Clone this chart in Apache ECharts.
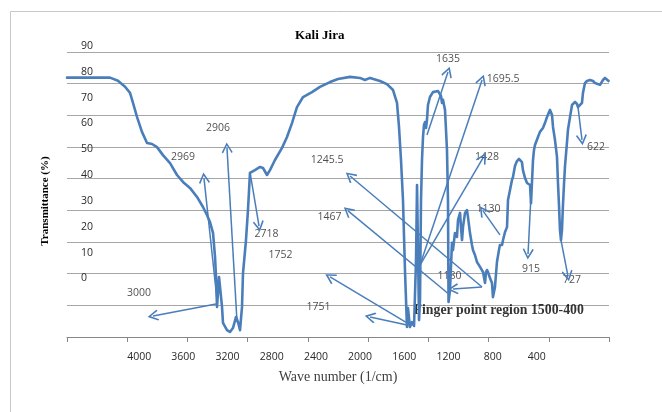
<!DOCTYPE html>
<html>
<head>
<meta charset="utf-8">
<script src="https://cdn.jsdelivr.net/npm/echarts@6/dist/echarts.min.js"></script>
<style>html,body{margin:0;padding:0;background:#fff}#c{width:662px;height:412px}</style>
</head>
<body>
<div id="c"></div>
<script>
// Spectrum: wave number (1/cm) and transmittance (%)
var waveNumber = [4650,4261,4189,4125,4080,4053,4017,3972,3926,3881,3836,3782,3718,3655,3601,3538,3474,3420,3384,3357,3329,3311,3302,3293,3275,3248,3239,3203,3176,3149,3121,3103,3085,3067,3058,3031,3013,2995,2950,2904,2877,2841,2814,2769,2705,2660,2615,2570,2515,2434,2362,2271,2199,2090,2000,1955,1909,1819,1756,1701,1665,1647,1629,1611,1593,1575,1566,1548,1530,1511,1493,1484,1475,1466,1457,1448,1439,1430,1421,1412,1403,1394,1385,1367,1340,1294,1267,1258,1249,1231,1213,1204,1199,1186,1177,1168,1159,1141,1123,1113,1095,1086,1077,1068,1050,1032,1023,1005,987,978,960,942,914,887,869,860,851,842,824,806,797,779,761,743,734,715,706,688,670,661,643,625,616,598,580,562,535,526,507,489,462,453,435,426,417,390,372,354,345,327,308,290,281,263,254,236,218,209,200,191,182,173,164,155,146,128,119,100,82,55,37,28,10,-8,-17,-35,-53,-81,-108,-126,-144,-171,-198,-216,-234,-249];
var transmittance = [77.8,77.8,76.6,74.3,71.9,68.0,62.6,56.8,52.5,52.1,50.9,47.8,44.7,40.1,37.4,35.1,31.6,27.7,24.6,21.9,17.6,8.3,0.6,-11.0,0.6,-11.0,-17.2,-20.0,-20.7,-19.2,-14.9,-16.9,-20.0,-11.0,2.1,14.9,26.5,40.9,42.0,43.2,42.8,40.1,42.0,45.9,50.6,54.8,60.2,66.4,70.3,72.2,74.2,76.1,77.3,78.1,77.7,76.9,77.7,76.5,75.3,73.0,68.0,58.7,45.9,30.4,3.3,-18.8,-11.4,-18.8,-16.9,-18.4,7.2,36.2,11.0,-16.1,-8.3,30.4,45.9,54.8,59.5,60.6,58.3,61.4,67.2,70.3,72.2,72.6,70.7,68.0,69.2,65.3,49.8,30.4,-9.1,-4.5,4.5,13.8,11.0,17.6,16.1,22.7,25.4,19.6,14.9,20.0,25.4,26.5,23.8,17.6,13.0,11.0,9.1,6.4,4.5,2.5,-1.7,2.5,3.3,2.5,0.2,-1.7,-7.2,-3.3,6.4,11.0,13.0,13.0,14.9,18.0,19.9,30.4,34.3,38.2,39.3,43.6,45.5,46.3,45.1,42.0,38.9,37.0,36.2,29.2,45.9,49.8,51.7,54.8,56.8,57.1,58.3,60.2,62.6,64.5,65.3,63.3,58.7,53.6,47.1,37.0,28.5,18.8,14.9,18.8,28.5,36.2,43.2,52.5,57.5,62.6,67.2,68.4,67.6,66.4,66.1,68.0,71.9,75.7,76.5,76.9,76.5,75.7,75.3,75.0,76.9,77.7,77.7,76.5];

// Tick labels
var yTickLabels = [0,10,20,30,40,50,60,70,80,90];
var xTickLabels = [4000,3600,3200,2800,2400,2000,1600,1200,800,400];

// Annotation arrows (from -> to, in wave number / transmittance)
var arrowFromX = [3302,3293,3112,2995,896,1186,1575,1575,1394,1457,1457,734,896,453,182,28];
var arrowFromY = [-9.9,-8.3,-16.9,41.3,-3.3,-6.4,-17.2,-18.0,55.6,5.2,5.2,16.9,-3.3,32.4,14.9,66.4];
var arrowToX   = [3872,3411,3203,2913,2090,2108,2271,1909,1204,896,887,887,1159,480,119,-8];
var arrowToY   = [-14.5,38.9,50.6,20.3,39.7,26.2,0.6,-14.9,80.0,76.9,46.7,26.2,-4.1,9.5,1.0,53.7];

// Annotation texts
var noteText = ['3000','2969','2906','2718','1752','1751','1467','1245.5','1635','1695.5','1428','1130','1180','915','727','622'];
var noteX = [3999,3601,3284,2846,2719,2375,2276,2298,1204,706,851,838,1190,453,82,-135];
var noteY = [-5.6,47.1,58.3,17.2,9.1,-11.0,23.8,45.9,85.0,77.3,47.1,26.9,1.0,3.7,-0.6,50.9];
var regionText = 'Finger point region 1500-400';
var regionX = 1520, regionY = -12.2;

var blue = '#4A7EBB';
var chevron = 'path://M5,0 L10,7.6 L8.9,8.5 L5,2.5 L1.1,8.5 L0,7.6 Z';

var lineData = waveNumber.map(function (w, i) { return [w, transmittance[i]]; });
var arrows = arrowFromX.map(function (x, i) {
  return [{ coord: [x, arrowFromY[i]] }, { coord: [arrowToX[i], arrowToY[i]] }];
});
var notes = noteText.map(function (t, i) { return { name: t, value: [noteX[i], noteY[i]] }; });

var chart = echarts.init(document.getElementById('c'), null, { renderer: 'canvas' });
chart.setOption({
  animation: false,
  backgroundColor: '#fff',
  title: {
    text: 'Kali Jira', left: 290, top: 24,
    textStyle: { fontFamily: 'Liberation Serif', fontWeight: 'bold', fontSize: 13, color: '#000' }
  },
  graphic: [
    { type: 'rect', silent: true, shape: { x: 10.5, y: 11.5, width: 700, height: 500 },
      style: { fill: 'none', stroke: '#c8c8c8', lineWidth: 1 } },
    { type: 'text', silent: true, x: 45, y: 201, rotation: Math.PI / 2,
      style: { text: 'Transmittance (%)', fontFamily: 'Liberation Serif', fontWeight: 'bold', fontSize: 11,
        fill: '#000', align: 'center', verticalAlign: 'middle' } }
  ],
  grid: [
    { left: 67, right: 53, top: 52, bottom: 75 },
    { left: 80, width: 30, top: 46, bottom: 133.5 },
    { left: 95, right: 81, top: 52, bottom: 75 }
  ],
  xAxis: [
    { gridIndex: 0, type: 'value', min: 0, max: 9, interval: 1, position: 'bottom',
      axisLine: { show: true, lineStyle: { color: '#868686', width: 1 } },
      axisTick: { show: true, length: 5, lineStyle: { color: '#868686' } },
      axisLabel: { show: false }, splitLine: { show: false },
      name: 'Wave number (1/cm)', nameLocation: 'middle', nameGap: 33,
      nameTextStyle: { fontFamily: 'Liberation Serif', fontSize: 14, color: '#404040' } },
    { gridIndex: 0, type: 'value', inverse: true, min: -252.4, max: 4650, position: 'top', show: false },
    { gridIndex: 1, type: 'value', min: 0, max: 1, show: false },
    { gridIndex: 2, type: 'value', inverse: true, min: 0, max: 4400, interval: 400,
      axisLine: { show: false }, axisTick: { show: false }, splitLine: { show: false },
      axisLabel: { show: true, margin: 15, showMinLabel: false, showMaxLabel: false,
        fontFamily: 'Open Sans', fontSize: 10.5, color: '#2a2a2a',
        formatter: function (v) { return xTickLabels.indexOf(v) >= 0 ? String(v) : ''; } } }
  ],
  yAxis: [
    { gridIndex: 0, type: 'value', min: 0, max: 9, interval: 1,
      axisLine: { show: false }, axisTick: { show: false }, axisLabel: { show: false },
      splitLine: { show: true, lineStyle: { color: '#a6a6a6', width: 1 } } },
    { gridIndex: 0, type: 'value', min: -22.66, max: 87.74, position: 'right', show: false },
    { gridIndex: 1, type: 'value', min: 0, max: 90, interval: 10,
      axisLine: { show: false }, axisTick: { show: false }, splitLine: { show: false },
      axisLabel: { show: true, inside: true, margin: 1, fontFamily: 'Open Sans', fontSize: 10.5, color: '#2a2a2a',
        formatter: function (v) { return yTickLabels.indexOf(v) >= 0 ? String(v) : ''; } } },
    { gridIndex: 2, type: 'value', min: 0, max: 1, show: false }
  ],
  series: [
    {
      type: 'line', xAxisIndex: 1, yAxisIndex: 1, data: lineData,
      showSymbol: false, symbol: 'none', smooth: false, silent: true,
      lineStyle: { color: blue, width: 2.6, join: 'round', cap: 'round' },
      markLine: {
        silent: true, animation: false,
        symbol: ['none', chevron], symbolSize: 11,
        label: { show: false },
        lineStyle: { color: blue, width: 1.5, type: 'solid' },
        emphasis: { disabled: true },
        data: arrows
      }
    },
    {
      type: 'scatter', xAxisIndex: 1, yAxisIndex: 1, data: notes,
      symbol: 'circle', symbolSize: 1, silent: true,
      itemStyle: { color: 'transparent' },
      label: { show: true, position: 'inside', formatter: '{b}',
        fontFamily: 'Open Sans', fontSize: 10.5, color: '#1f1f1f' }
    },
    {
      type: 'scatter', xAxisIndex: 1, yAxisIndex: 1,
      data: [{ name: regionText, value: [regionX, regionY] }],
      symbol: 'circle', symbolSize: 1, silent: true,
      itemStyle: { color: 'transparent' },
      label: { show: true, position: 'right', distance: 0, formatter: '{b}',
        fontFamily: 'Liberation Serif', fontWeight: 'bold', fontSize: 13.8, color: '#000' }
    }
  ]
});
</script>
</body>
</html>
